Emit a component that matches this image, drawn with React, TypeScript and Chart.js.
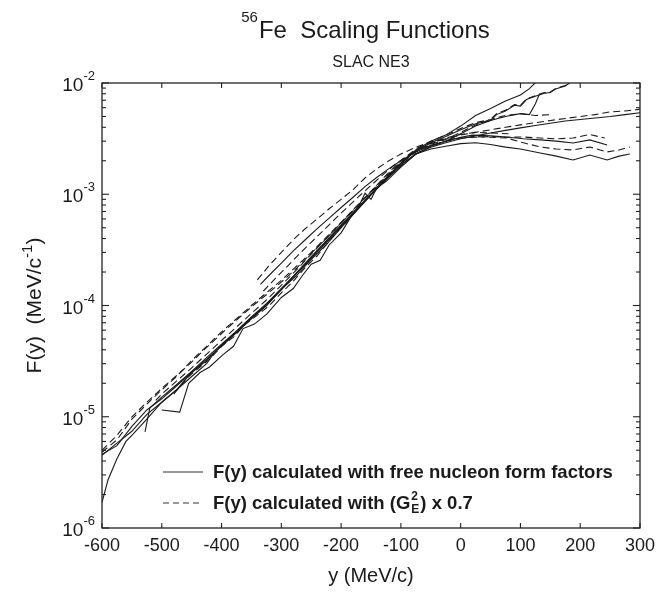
import React, { useEffect, useRef } from 'react';
import { Chart, registerables } from 'chart.js';

Chart.register(...registerables);

// ---- text ----
const TITLE_SUP = '56';
const TITLE_MAIN = 'Fe  Scaling Functions';
const SUBTITLE = 'SLAC NE3';
const X_TITLE = 'y (MeV/c)';
const Y_TITLE = 'F(y)  (MeV/c';
const Y_TITLE_SUP = '-1';
const Y_TITLE_END = ')';
const LEGEND_SOLID = 'F(y) calculated with free nucleon form factors';
const LEGEND_DASHED_A = 'F(y) calculated with (G';
const LEGEND_DASHED_SUP = '2';
const LEGEND_DASHED_SUB = 'E';
const LEGEND_DASHED_B = ') x 0.7';

// ---- axes ----
const X_MIN = -600;
const X_MAX = 300;
const X_TICKS = [-600, -500, -400, -300, -200, -100, 0, 100, 200, 300];
const Y_DECADES = [-6, -5, -4, -3, -2];

// ---- curves: y (MeV/c) and F(y) (MeV/c)^-1 ----
const S1_Y = [-600, -575, -550, -525, -500, -475, -450, -425, -400, -375, -350, -325, -300, -275, -250, -225, -200, -175, -150, -125, -100, -75, -50, -25, 0, 25, 50, 75, 100, 115, 130];
const S1_F = [4.5e-6, 5.8e-6, 7.4e-6, 1.05e-5, 1.35e-5, 1.75e-5, 2.5e-5, 3.2e-5, 4.4e-5, 5.7e-5, 7.8e-5, 1.0e-4, 1.4e-4, 1.85e-4, 2.6e-4, 3.5e-4, 5.0e-4, 7.0e-4, 9.8e-4, 1.36e-3, 1.9e-3, 2.5e-3, 3.0e-3, 3.4e-3, 4.1e-3, 5.1e-3, 5.9e-3, 6.9e-3, 7.8e-3, 8.9e-3, 1.07e-2];

const S2_Y = [-600, -590, -575, -560, -550, -525, -500, -475, -450, -425, -410, -400, -375, -350, -325, -300, -275, -250, -225, -200, -175, -150, -125, -100, -75, -50, -25, 0, 25, 50, 60, 75, 90, 100, 110, 125, 140, 150, 160, 175, 190];
const S2_F = [1.7e-6, 2.7e-6, 4.2e-6, 6.0e-6, 6.8e-6, 9.5e-6, 1.35e-5, 1.75e-5, 2.3e-5, 3.0e-5, 3.9e-5, 4.4e-5, 5.8e-5, 7.8e-5, 1.02e-4, 1.42e-4, 1.92e-4, 2.65e-4, 3.65e-4, 5.1e-4, 7.1e-4, 1.0e-3, 1.35e-3, 1.8e-3, 2.3e-3, 2.7e-3, 3.0e-3, 3.5e-3, 4.1e-3, 4.6e-3, 5.2e-3, 5.6e-3, 6.3e-3, 6.2e-3, 7.1e-3, 7.6e-3, 8.1e-3, 8.2e-3, 8.9e-3, 9.4e-3, 1.07e-2];

const D1_Y = [-600, -575, -550, -525, -500, -475, -450, -425, -400, -375, -350, -325, -300, -275, -250, -225, -200, -175, -150, -125, -100, -75, -50, -25, 0, 25, 50, 60, 75, 90, 100, 110, 125, 140, 150, 160, 175, 190];
const D1_F = [5.0e-6, 6.8e-6, 1.0e-5, 1.35e-5, 1.8e-5, 2.35e-5, 3.1e-5, 4.2e-5, 5.6e-5, 7.4e-5, 9.7e-5, 1.25e-4, 1.62e-4, 2.15e-4, 2.95e-4, 4.0e-4, 5.5e-4, 7.6e-4, 1.05e-3, 1.42e-3, 1.9e-3, 2.4e-3, 2.8e-3, 3.1e-3, 3.6e-3, 4.2e-3, 4.7e-3, 5.3e-3, 5.7e-3, 6.4e-3, 6.3e-3, 7.2e-3, 7.7e-3, 8.2e-3, 8.3e-3, 9.0e-3, 9.5e-3, 1.08e-2];

const D2_Y = [-600, -575, -550, -525, -500, -475, -450, -425, -400, -375, -350, -325, -300, -275, -250, -225, -200, -175, -150, -125, -100, -75, -50, -25, 0, 25, 50, 75, 100, 125, 150, 175, 200, 225, 250, 275, 300];
const D2_F = [4.8e-6, 6.2e-6, 9.5e-6, 1.3e-5, 1.75e-5, 2.3e-5, 3.2e-5, 4.3e-5, 5.8e-5, 7.6e-5, 1.0e-4, 1.3e-4, 1.68e-4, 2.25e-4, 3.0e-4, 4.1e-4, 5.6e-4, 7.7e-4, 1.06e-3, 1.45e-3, 1.95e-3, 2.45e-3, 2.85e-3, 3.15e-3, 3.4e-3, 3.6e-3, 3.8e-3, 4.0e-3, 4.2e-3, 4.4e-3, 4.6e-3, 4.8e-3, 5.0e-3, 5.2e-3, 5.5e-3, 5.6e-3, 5.8e-3];

const S4_Y = [-600, -575, -550, -525, -500, -475, -450, -425, -400, -375, -350, -325, -300, -275, -250, -225, -200, -175, -150, -125, -100, -75, -50, -25, 0, 25, 50, 75, 100, 125, 150, 175, 200, 225, 250, 275, 300];
const S4_F = [4.6e-6, 5.5e-6, 8.2e-6, 1.15e-5, 1.45e-5, 1.9e-5, 2.5e-5, 3.3e-5, 4.3e-5, 5.7e-5, 7.6e-5, 1.0e-4, 1.38e-4, 1.95e-4, 2.75e-4, 3.8e-4, 5.3e-4, 7.3e-4, 1.0e-3, 1.38e-3, 1.85e-3, 2.3e-3, 2.65e-3, 2.9e-3, 3.15e-3, 3.35e-3, 3.55e-3, 3.75e-3, 3.95e-3, 4.15e-3, 4.35e-3, 4.55e-3, 4.7e-3, 4.85e-3, 5.0e-3, 5.2e-3, 5.4e-3];

const S3_Y = [-528, -520, -500, -475, -450, -425, -400, -375, -350, -325, -300, -275, -250, -225, -200, -175, -150, -125, -100, -75, -50, -25, 0, 25, 50, 75, 100, 115, 125, 132];
const S3_F = [7.3e-6, 1.2e-5, 1.5e-5, 1.95e-5, 2.55e-5, 3.4e-5, 4.5e-5, 5.9e-5, 7.9e-5, 1.04e-4, 1.42e-4, 1.95e-4, 2.7e-4, 3.75e-4, 5.2e-4, 7.2e-4, 1.0e-3, 1.4e-3, 1.9e-3, 2.45e-3, 2.9e-3, 3.3e-3, 3.8e-3, 4.3e-3, 4.6e-3, 5.0e-3, 5.3e-3, 5.2e-3, 6.5e-3, 8.0e-3];

const D3_Y = [-510, -500, -475, -450, -425, -400, -375, -350, -325, -300, -275, -250, -225, -200, -175, -150, -125, -100, -75, -50, -25, 0, 25, 50, 75, 100, 125, 150];
const D3_F = [1.4e-5, 1.6e-5, 2.1e-5, 2.75e-5, 3.65e-5, 4.85e-5, 6.4e-5, 8.5e-5, 1.12e-4, 1.52e-4, 2.08e-4, 2.9e-4, 4.0e-4, 5.55e-4, 7.7e-4, 1.06e-3, 1.48e-3, 2.0e-3, 2.55e-3, 3.0e-3, 3.4e-3, 3.9e-3, 4.4e-3, 4.7e-3, 5.1e-3, 5.3e-3, 5.1e-3, 5.2e-3];

const S6_Y = [-500, -470, -455, -436, -420, -398, -380, -364, -345, -324, -300, -280, -265, -250, -235, -220, -200, -185, -170, -160, -150, -140, -125, -100, -75, -50, -25, 0, 25, 50, 75, 100, 133, 160, 188, 216, 245, 265, 283];
const S6_F = [1.15e-5, 1.1e-5, 2.0e-5, 2.5e-5, 2.8e-5, 3.6e-5, 4.3e-5, 6.2e-5, 6.8e-5, 8.4e-5, 1.18e-4, 1.42e-4, 1.85e-4, 2.35e-4, 2.55e-4, 3.5e-4, 4.5e-4, 6.1e-4, 7.9e-4, 1.02e-3, 9.0e-4, 1.15e-3, 1.3e-3, 1.75e-3, 2.3e-3, 2.55e-3, 2.7e-3, 2.85e-3, 2.9e-3, 2.8e-3, 2.65e-3, 2.55e-3, 2.35e-3, 2.2e-3, 2.03e-3, 2.25e-3, 2.03e-3, 2.2e-3, 2.3e-3];

const D6_Y = [-480, -455, -436, -420, -400, -380, -360, -340, -320, -300, -280, -260, -240, -220, -200, -180, -160, -140, -120, -100, -75, -50, -25, 0, 25, 50, 77, 105, 133, 160, 188, 216, 245, 265, 283];
const D6_F = [1.6e-5, 2.3e-5, 2.8e-5, 3.3e-5, 4.3e-5, 5.2e-5, 6.8e-5, 8.2e-5, 1.0e-4, 1.3e-4, 1.65e-4, 2.2e-4, 2.8e-4, 3.8e-4, 5.0e-4, 6.6e-4, 8.8e-4, 1.15e-3, 1.45e-3, 1.8e-3, 2.3e-3, 2.7e-3, 3.0e-3, 3.2e-3, 3.3e-3, 3.25e-3, 3.2e-3, 2.9e-3, 2.66e-3, 2.55e-3, 2.5e-3, 2.66e-3, 2.4e-3, 2.5e-3, 2.66e-3];

const D5_Y = [-340, -320, -300, -280, -260, -240, -220, -200, -180, -160, -140, -120, -100, -75, -50, -25, 0, 25, 50, 75, 104, 133, 160, 188, 216, 241];
const D5_F = [1.7e-4, 2.3e-4, 3.0e-4, 3.9e-4, 4.9e-4, 6.0e-4, 7.4e-4, 9.0e-4, 1.1e-3, 1.4e-3, 1.7e-3, 2.0e-3, 2.3e-3, 2.65e-3, 2.95e-3, 3.1e-3, 3.2e-3, 3.25e-3, 3.3e-3, 3.25e-3, 3.27e-3, 3.2e-3, 3.15e-3, 3.2e-3, 3.45e-3, 3.2e-3];

const S5_Y = [-335, -315, -300, -280, -260, -240, -220, -200, -180, -160, -140, -120, -100, -75, -50, -25, 0, 20, 50, 77, 105, 133, 160, 188, 216, 245];
const S5_F = [1.55e-4, 2.0e-4, 2.4e-4, 3.1e-4, 3.9e-4, 4.9e-4, 6.1e-4, 7.6e-4, 9.4e-4, 1.17e-3, 1.42e-3, 1.7e-3, 2.0e-3, 2.4e-3, 2.75e-3, 3.0e-3, 3.25e-3, 3.4e-3, 3.35e-3, 3.27e-3, 3.15e-3, 3.08e-3, 3.0e-3, 2.89e-3, 3.08e-3, 2.77e-3];

const D7_Y = [-330, -310, -290, -270, -250, -230, -210, -190, -170, -150, -130, -110, -90, -70, -50, -25, 0, 25, 50, 80];
const D7_F = [1.35e-4, 1.75e-4, 2.25e-4, 2.9e-4, 3.7e-4, 4.7e-4, 6.0e-4, 7.6e-4, 9.6e-4, 1.2e-3, 1.5e-3, 1.85e-3, 2.2e-3, 2.55e-3, 2.9e-3, 3.2e-3, 3.45e-3, 3.6e-3, 3.55e-3, 3.5e-3];

const SERIES = [
  { y: S1_Y, f: S1_F, dashed: false },
  { y: S2_Y, f: S2_F, dashed: false },
  { y: S3_Y, f: S3_F, dashed: false },
  { y: S4_Y, f: S4_F, dashed: false },
  { y: S5_Y, f: S5_F, dashed: false },
  { y: S6_Y, f: S6_F, dashed: false },
  { y: D1_Y, f: D1_F, dashed: true },
  { y: D2_Y, f: D2_F, dashed: true },
  { y: D3_Y, f: D3_F, dashed: true },
  { y: D5_Y, f: D5_F, dashed: true },
  { y: D6_Y, f: D6_F, dashed: true },
  { y: D7_Y, f: D7_F, dashed: true },
];

const FONT = '"Liberation Sans", Arial, Helvetica, sans-serif';
const INK = '#1a1a1a';
const DASH = [7, 4];

const decorPlugin = {
  id: 'decor',
  afterDraw(chart: any) {
    const { ctx, chartArea: a, scales } = chart;
    const xs = scales.x;
    const ys = scales.y;
    ctx.save();
    ctx.strokeStyle = '#222';
    ctx.fillStyle = INK;
    ctx.lineWidth = 1.3;
    ctx.setLineDash([]);
    ctx.strokeRect(a.left, a.top, a.right - a.left, a.bottom - a.top);

    const seg = (x1: number, y1: number, x2: number, y2: number) => {
      ctx.beginPath();
      ctx.moveTo(x1, y1);
      ctx.lineTo(x2, y2);
      ctx.stroke();
    };

    // x ticks (inward, top and bottom)
    ctx.lineWidth = 1.1;
    X_TICKS.forEach((v) => {
      const px = xs.getPixelForValue(v);
      seg(px, a.bottom, px, a.bottom - 5);
      seg(px, a.top, px, a.top + 5);
    });
    // y ticks: major and minor (inward, left and right)
    Y_DECADES.forEach((d) => {
      const py = ys.getPixelForValue(Math.pow(10, d));
      seg(a.left, py, a.left + 7, py);
      seg(a.right, py, a.right - 7, py);
      if (d < -2) {
        for (let m = 2; m <= 9; m++) {
          const pm = ys.getPixelForValue(m * Math.pow(10, d));
          seg(a.left, pm, a.left + 4, pm);
          seg(a.right, pm, a.right - 4, pm);
        }
      }
    });

    // x tick labels
    ctx.font = `18px ${FONT}`;
    ctx.textAlign = 'center';
    ctx.textBaseline = 'alphabetic';
    X_TICKS.forEach((v) => {
      ctx.fillText(String(v), xs.getPixelForValue(v), a.bottom + 23);
    });

    // y tick labels 10^d
    Y_DECADES.forEach((d) => {
      const py = ys.getPixelForValue(Math.pow(10, d));
      const sup = String(d);
      ctx.font = `13px ${FONT}`;
      const wSup = ctx.measureText(sup).width;
      ctx.textAlign = 'left';
      const right = a.left - 7;
      ctx.fillText(sup, right - wSup, py - 3);
      ctx.font = `19px ${FONT}`;
      ctx.textAlign = 'right';
      ctx.fillText('10', right - wSup, py + 8);
    });

    // x axis title
    ctx.font = `20px ${FONT}`;
    ctx.textAlign = 'center';
    ctx.fillText(X_TITLE, (a.left + a.right) / 2, 582);

    // y axis title (rotated)
    ctx.save();
    ctx.translate(41, (a.top + a.bottom) / 2);
    ctx.rotate(-Math.PI / 2);
    ctx.font = `21px ${FONT}`;
    const w1 = ctx.measureText(Y_TITLE).width;
    const w3 = ctx.measureText(Y_TITLE_END).width;
    ctx.font = `15px ${FONT}`;
    const w2 = ctx.measureText(Y_TITLE_SUP).width;
    const total = w1 + w2 + w3;
    let cx = -total / 2;
    ctx.textAlign = 'left';
    ctx.font = `21px ${FONT}`;
    ctx.fillText(Y_TITLE, cx, 0);
    cx += w1;
    ctx.font = `15px ${FONT}`;
    ctx.fillText(Y_TITLE_SUP, cx, -9);
    cx += w2;
    ctx.font = `21px ${FONT}`;
    ctx.fillText(Y_TITLE_END, cx, 0);
    ctx.restore();

    // title
    ctx.textAlign = 'left';
    ctx.font = `15px ${FONT}`;
    const wS = ctx.measureText(TITLE_SUP).width;
    ctx.font = `24px ${FONT}`;
    const wM = ctx.measureText(TITLE_MAIN).width;
    const tx = (a.left + a.right) / 2 - (wS + wM) / 2 - 6;
    ctx.font = `15px ${FONT}`;
    ctx.fillText(TITLE_SUP, tx, 22);
    ctx.font = `24px ${FONT}`;
    ctx.fillText(TITLE_MAIN, tx + wS + 1, 38);

    // subtitle
    ctx.font = `16px ${FONT}`;
    ctx.textAlign = 'center';
    ctx.fillText(SUBTITLE, (a.left + a.right) / 2, 67);

    // legend
    ctx.lineWidth = 1.1;
    ctx.strokeStyle = '#333';
    seg(163, 472, 203, 472);
    ctx.setLineDash([6, 4]);
    seg(163, 503, 203, 503);
    ctx.setLineDash([]);
    ctx.textAlign = 'left';
    ctx.font = `bold 18.5px ${FONT}`;
    ctx.fillText(LEGEND_SOLID, 213, 478);
    ctx.fillText(LEGEND_DASHED_A, 213, 509);
    let lx = 213 + ctx.measureText(LEGEND_DASHED_A).width;
    ctx.font = `bold 12px ${FONT}`;
    const wsup = ctx.measureText(LEGEND_DASHED_SUP).width;
    const wsub = ctx.measureText(LEGEND_DASHED_SUB).width;
    ctx.fillText(LEGEND_DASHED_SUP, lx + 1, 500);
    ctx.fillText(LEGEND_DASHED_SUB, lx + 1, 513);
    lx += Math.max(wsup, wsub) + 2;
    ctx.font = `bold 18.5px ${FONT}`;
    ctx.fillText(LEGEND_DASHED_B, lx, 509);

    ctx.restore();
  },
};

export default function App() {
  const ref = useRef<HTMLCanvasElement | null>(null);

  useEffect(() => {
    if (!ref.current) return;
    const datasets = SERIES.map((s) => ({
      data: s.y.map((yv, i) => ({ x: yv, y: s.f[i] })),
      borderColor: INK,
      borderWidth: 1.1,
      borderDash: s.dashed ? DASH : [],
      pointRadius: 0,
      fill: false,
      tension: 0,
    }));
    const chart = new Chart(ref.current, {
      type: 'line',
      data: { datasets },
      options: {
        animation: false,
        responsive: false,
        devicePixelRatio: 1,
        layout: { padding: { left: 102, right: 32, top: 83, bottom: 66 } },
        plugins: { legend: { display: false }, tooltip: { enabled: false }, title: { display: false } },
        scales: {
          x: { type: 'linear', min: X_MIN, max: X_MAX, display: false },
          y: { type: 'logarithmic', min: 1e-6, max: 1e-2, display: false },
        },
      },
      plugins: [decorPlugin],
    });
    return () => chart.destroy();
  }, []);

  return (
    <div style={{ position: 'fixed', left: 0, top: 0, width: 672, height: 594, background: '#fff' }}>
      <canvas ref={ref} width={672} height={594} style={{ display: 'block', width: 672, height: 594 }} />
    </div>
  );
}
